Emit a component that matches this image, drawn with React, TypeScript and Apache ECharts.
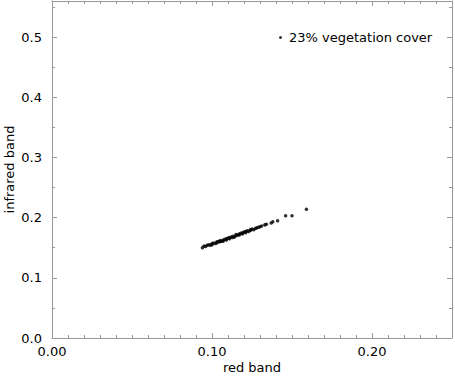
import React, { useEffect, useRef } from "react";
import * as echarts from "echarts";

const seriesName = "23% vegetation cover";
const redBand = [
  0.094, 0.095, 0.096, 0.097, 0.098, 0.099, 0.100, 0.100, 0.101, 0.102, 0.103, 0.103,
  0.104, 0.105, 0.105, 0.106, 0.107, 0.107, 0.108, 0.109, 0.109, 0.110, 0.111, 0.111,
  0.112, 0.113, 0.113, 0.114, 0.115, 0.115, 0.116, 0.117, 0.117, 0.118, 0.119, 0.119,
  0.120, 0.121, 0.121, 0.122, 0.123, 0.124, 0.124, 0.125, 0.126, 0.127, 0.128, 0.129,
  0.130, 0.131, 0.133, 0.134, 0.137, 0.138, 0.141, 0.146, 0.150, 0.159,
];
const infraredBand = [
  0.150, 0.153, 0.152, 0.154, 0.155, 0.154, 0.157, 0.155, 0.158, 0.157, 0.160, 0.158,
  0.160, 0.162, 0.160, 0.161, 0.163, 0.161, 0.164, 0.163, 0.165, 0.166, 0.165, 0.167,
  0.168, 0.167, 0.169, 0.168, 0.170, 0.172, 0.171, 0.173, 0.171, 0.174, 0.173, 0.175,
  0.176, 0.175, 0.177, 0.178, 0.177, 0.179, 0.180, 0.181, 0.180, 0.182, 0.183, 0.184,
  0.185, 0.186, 0.188, 0.189, 0.191, 0.193, 0.195, 0.203, 0.203, 0.214,
];
const xTickValues = [0.0, 0.1, 0.2];
const yTickValues = [0.0, 0.1, 0.2, 0.3, 0.4, 0.5];

const FONT = "DejaVu Sans, Liberation Sans, Arial, sans-serif";
const FONT_SIZE = 13;
const AXIS_COLOR = "#9a9a9a";

export default function App() {
  const ref = useRef<HTMLDivElement>(null);
  useEffect(() => {
    if (!ref.current) return;
    const chart = echarts.init(ref.current, undefined, { renderer: "svg" });
    const points = redBand.map((x, i) => [x, infraredBand[i]]);
    const lineStyle = { color: AXIS_COLOR, width: 1 };
    const textBase = { fontSize: FONT_SIZE, color: "#000", fontFamily: FONT };
    const common = {
      type: "value" as const,
      axisLine: { show: true, onZero: false, lineStyle },
      splitLine: { show: false },
    };
    chart.setOption({
      animation: false,
      backgroundColor: "#ffffff",
      textStyle: { fontFamily: FONT },
      grid: {
        left: 52,
        right: 3,
        top: 1,
        bottom: 38,
        containLabel: false,
        outerBoundsMode: "none",
      },
      legend: {
        data: [{ name: seriesName, icon: "circle" }],
        left: 274,
        top: 26,
        itemWidth: 3,
        itemHeight: 3,
        itemGap: 5,
        textStyle: { ...textBase, padding: [0, 0, 0, 2] },
      },
      xAxis: [
        {
          ...common,
          position: "bottom",
          min: 0,
          max: 0.25,
          interval: 0.1,
          name: "red band",
          nameLocation: "middle",
          nameGap: 23,
          nameMoveOverlap: false,
          nameTextStyle: textBase,
          axisTick: { show: true, inside: true, length: 5, lineStyle },
          minorTick: { show: true, splitNumber: 10, length: 3, lineStyle },
          axisLabel: {
            show: true,
            margin: 7,
            ...textBase,
            showMaxLabel: false,
            formatter: (v: number) =>
              xTickValues.some((t) => Math.abs(t - v) < 1e-9) ? v.toFixed(2) : "",
          },
        },
        {
          ...common,
          position: "top",
          min: 0,
          max: 0.25,
          interval: 0.1,
          axisTick: { show: true, inside: true, length: 5, lineStyle },
          minorTick: { show: true, splitNumber: 10, length: 3, lineStyle },
          axisLabel: { show: false },
        },
      ],
      yAxis: [
        {
          ...common,
          position: "left",
          min: 0,
          max: 0.56,
          interval: 0.1,
          name: "infrared band",
          nameLocation: "middle",
          nameGap: 36,
          nameMoveOverlap: false,
          nameTextStyle: textBase,
          axisTick: { show: true, inside: true, length: 5, lineStyle },
          minorTick: { show: true, splitNumber: 2, length: 3, lineStyle },
          axisLabel: {
            show: true,
            margin: 10,
            ...textBase,
            showMaxLabel: false,
            formatter: (v: number) =>
              yTickValues.some((t) => Math.abs(t - v) < 1e-9) ? v.toFixed(1) : "",
          },
        },
        {
          ...common,
          position: "right",
          min: 0,
          max: 0.56,
          interval: 0.1,
          axisTick: { show: true, inside: true, length: 5, lineStyle },
          minorTick: { show: true, splitNumber: 2, length: 3, lineStyle },
          axisLabel: { show: false },
        },
      ],
      series: [
        {
          name: seriesName,
          type: "scatter",
          xAxisIndex: 0,
          yAxisIndex: 0,
          data: points,
          symbol: "circle",
          symbolSize: 3.5,
          itemStyle: { color: "#000" },
        },
      ],
    });
    return () => chart.dispose();
  }, []);
  return (
    <div
      ref={ref}
      style={{ position: "fixed", left: 0, top: 0, width: 455, height: 376, background: "#fff" }}
    />
  );
}
